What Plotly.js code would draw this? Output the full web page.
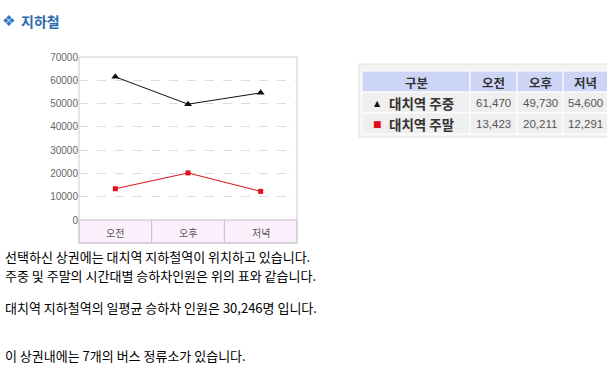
<!DOCTYPE html>
<html>
<head>
<meta charset="utf-8">
<script src="https://cdn.plot.ly/plotly-3.0.1.min.js"></script>
<style>
html,body{margin:0;padding:0;background:#fff;}
#chart{width:607px;height:374px;}
</style>
</head>
<body>
<div id="chart"></div>
<script>
// ---- data ----
const categories = ['오전', '오후', '저녁'];
const seriesNames = ['대치역 주중', '대치역 주말'];
const weekdayValues = [61470, 49730, 54600];
const weekendValues = [13423, 20211, 12291];
const yTicks = [0, 10000, 20000, 30000, 40000, 50000, 60000, 70000];
const tableHeader = ['구분', '오전', '오후', '저녁'];
const pageTitle = '지하철';
const bodyLines = [
  '선택하신 상권에는 대치역 지하철역이 위치하고 있습니다.',
  '주중 및 주말의 시간대별 승하차인원은 위의 표와 같습니다.',
  '대치역 지하철역의 일평균 승하차 인원은 30,246명 입니다.',
  '이 상권내에는 7개의 버스 정류소가 있습니다.'
];

// ---- helpers (pixel -> paper) ----
const W = 607, H = 374;
const px = x => x / W;
const py = y => 1 - y / H;
const fmt = v => v.toLocaleString('en-US');

const font = 'Liberation Sans, Arial, sans-serif';
const kfont = 'Noto Sans CJK KR, sans-serif';
const colors = ['#111111', '#e0101a'];
const symbols = ['triangle-up', 'square'];
const seriesValues = [weekdayValues, weekendValues];

const traces = seriesValues.map((vals, i) => ({
  type: 'scatter', mode: 'lines+markers', x: categories, y: vals,
  name: seriesNames[i],
  line: {color: colors[i], width: 1},
  marker: {symbol: symbols[i], size: i === 0 ? 7 : 5, color: colors[i]}
}));

const shapes = [
  // plot frame
  {type: 'rect', xref: 'paper', yref: 'paper', layer: 'above',
   x0: px(79), x1: px(297), y0: py(243), y1: py(57),
   line: {color: '#cccccc', width: 1}},
  // category band
  {type: 'rect', xref: 'paper', yref: 'paper', layer: 'below',
   x0: px(79), x1: px(297), y0: py(243), y1: py(220),
   fillcolor: '#fcf0fc', line: {color: '#cdb7d2', width: 1}}
];
for (let i = 0; i < categories.length - 1; i++) {
  shapes.push({type: 'line', xref: 'x', yref: 'paper',
    x0: i + 0.5, x1: i + 0.5, y0: py(243), y1: py(220),
    line: {color: '#cdb7d2', width: 1}});
}

const annotations = [];
categories.forEach(c => annotations.push({
  xref: 'x', yref: 'paper', x: c, y: py(232), text: c, showarrow: false,
  xanchor: 'center', yanchor: 'middle', font: {family: kfont, size: 10, color: '#555'}
}));

// ---- table (drawn with shapes + annotations) ----
const colX = [362, 470, 517, 563, 608];
const rowY = [71, 92, 113, 134];
shapes.push({type: 'rect', xref: 'paper', yref: 'paper', layer: 'below',
  x0: px(359), x1: px(612), y0: py(137), y1: py(64),
  fillcolor: '#f4f4f4', line: {color: '#e0e0e0', width: 1}});
const rows = [tableHeader].concat(seriesNames.map((n, i) => [n].concat(seriesValues[i].map(fmt))));
rows.forEach((row, r) => {
  row.forEach((val, c) => {
    shapes.push({type: 'rect', xref: 'paper', yref: 'paper', layer: 'below',
      x0: px(colX[c]), x1: px(colX[c + 1]), y0: py(rowY[r + 1]), y1: py(rowY[r]),
      fillcolor: r === 0 ? '#cdd5f7' : '#efefef', line: {color: '#ffffff', width: 1}});
    const cy = py((rowY[r] + rowY[r + 1]) / 2 + 0.5);
    if (r === 0) {
      annotations.push({xref: 'paper', yref: 'paper', x: px((colX[c] + Math.min(colX[c + 1], 607)) / 2), y: cy,
        text: '<b>' + val + '</b>', showarrow: false, xanchor: 'center', yanchor: 'middle',
        font: {family: kfont, size: 12.5, color: '#333'}});
    } else if (c === 0) {
      annotations.push({xref: 'paper', yref: 'paper', x: px(387), y: cy,
        text: '<b>' + val + '</b>', showarrow: false, xanchor: 'left', yanchor: 'middle',
        font: {family: kfont, size: 13.5, color: '#333'}});
      annotations.push({xref: 'paper', yref: 'paper', x: px(377.5), y: cy,
        text: r === 1 ? '▲' : '■', showarrow: false, xanchor: 'center', yanchor: 'middle',
        font: {family: 'DejaVu Sans', size: r === 1 ? 8 : 9, color: colors[r - 1]}});
    } else {
      annotations.push({xref: 'paper', yref: 'paper', x: px((colX[c] + Math.min(colX[c + 1], 607)) / 2), y: cy,
        text: val, showarrow: false, xanchor: 'center', yanchor: 'middle',
        font: {family: font, size: 11.5, color: '#555'}});
    }
  });
});

// ---- title and body text ----
annotations.push({
  xref: 'paper', yref: 'paper', x: px(0), y: py(21), text: '❖', showarrow: false,
  xanchor: 'left', yanchor: 'middle', font: {family: 'DejaVu Sans', size: 15, color: '#2f78c0'}
});
annotations.push({
  xref: 'paper', yref: 'paper', x: px(19), y: py(21), text: '<b>' + pageTitle + '</b>', showarrow: false,
  xanchor: 'left', yanchor: 'middle', font: {family: kfont, size: 14, color: '#2a68ad'}
});
const lineY = [256.5, 275.5, 307, 355];
bodyLines.forEach((t, i) => annotations.push({
  xref: 'paper', yref: 'paper', x: px(4), y: py(lineY[i]), text: t, showarrow: false,
  xanchor: 'left', yanchor: 'middle', borderpad: 0,
  font: {family: kfont, size: 13, color: '#000'}
}));

const layout = {
  width: W, height: H,
  margin: {l: 0, r: 0, t: 0, b: 0},
  paper_bgcolor: '#fff', plot_bgcolor: '#fff',
  showlegend: false,
  xaxis: {
    domain: [px(79), px(297)], type: 'category', range: [-0.5, 2.5],
    showticklabels: false, showgrid: false, zeroline: false, showline: false, ticks: '',
    fixedrange: true
  },
  yaxis: {
    domain: [py(220), py(57)], range: [0, 70000], tickvals: yTicks,
    ticktext: yTicks.map(String),
    showgrid: true, gridcolor: '#dddddd', griddash: 'dash', gridwidth: 1,
    zeroline: false, showline: false, ticks: '',
    tickfont: {family: font, size: 10, color: '#666'},
    fixedrange: true
  },
  shapes: shapes,
  annotations: annotations
};

Plotly.newPlot('chart', traces, layout, {displayModeBar: false, staticPlot: true});
</script>
</body>
</html>
